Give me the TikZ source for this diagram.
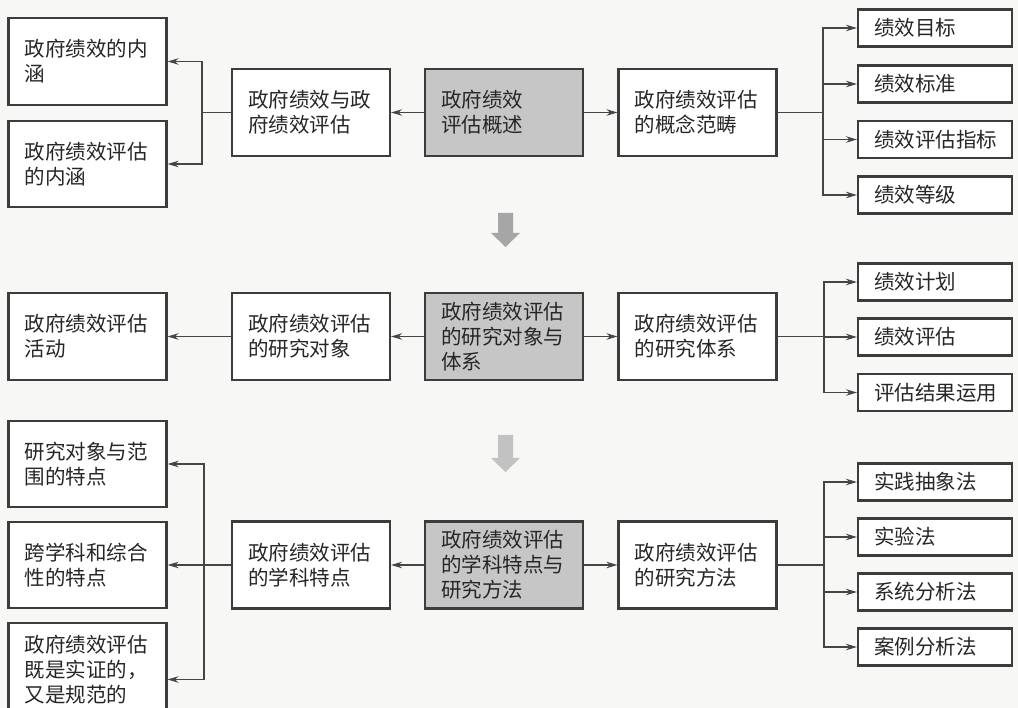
\documentclass[tikz,border=0pt]{standalone}
\usepackage{fontspec}
\newfontfamily\cjk{Noto Sans CJK SC}
\usepackage{tikz}
\usetikzlibrary{arrows.meta, positioning, calc}
\usepackage{xcolor}
\definecolor{boxline}{HTML}{3C3C3C}
\definecolor{hubgray}{HTML}{C6C6C6}
\definecolor{linegray}{HTML}{454545}
\definecolor{paper}{HTML}{F7F7F6}

\begin{document}
\begin{tikzpicture}[
  x=1pt, y=-1pt,
  box/.style={draw=boxline, line width=2.2pt, fill=white, minimum height=87pt, text width=126pt, inner xsep=16pt, inner ysep=4pt, align=left, font=\cjk\fontsize{20.5}{25}\selectfont, text=black!85},
  hub/.style={box, fill=hubgray},
  leaf/.style={box, minimum height=37pt, text width=122pt},
  link/.style={draw=linegray, line width=1.1pt},
  arr/.style={link, -{Stealth[length=11pt, width=6.5pt]}},
  bigarrow/.style={fill=#1, draw=none}
]
\useasboundingbox (0,0) rectangle (1018,708);
\fill[paper] (0,0) rectangle (1018,708);

% Row 1 (overview)
\node[box] (mgov) at (87.5,61.5) {政府绩效的内\\涵};
\node[box, minimum height=86pt] (meval) at (87.5,164) {政府绩效评估\\的内涵};
\node[box] (pair) at (311,112.5) {政府绩效与政\\府绩效评估};
\node[hub] (intro) at (504,112.5) {政府绩效\\评估概述};
\node[box] (concept) at (697.5,112.5) {政府绩效评估\\的概念范畴};
\node[leaf] (goal) at (935,28) {绩效目标};
\node[leaf] (std) at (935,84) {绩效标准};
\node[leaf] (ind) at (935,139.5) {绩效评估指标};
\node[leaf] (grade) at (935,195) {绩效等级};

% Row 2 (objects and system)
\node[box] (act) at (87.5,336.5) {政府绩效评估\\活动};
\node[box] (obj) at (311,336.5) {政府绩效评估\\的研究对象};
\node[hub] (scope) at (504,336.5) {政府绩效评估\\的研究对象与\\体系};
\node[box] (sys) at (697.5,336.5) {政府绩效评估\\的研究体系};
\node[leaf] (plan) at (935,282) {绩效计划};
\node[leaf] (eval) at (935,337) {绩效评估};
\node[leaf] (use) at (935,392.5) {评估结果运用};

% Row 3 (features and methods)
\node[box, minimum height=86pt] (fa) at (87.5,464) {研究对象与范\\围的特点};
\node[box, minimum height=86pt] (fb) at (87.5,565) {跨学科和综合\\性的特点};
\node[box, minimum height=93pt] (fc) at (87.5,669.5) {政府绩效评估\\既是实证的，\\又是规范的};
\node[box] (subj) at (311,565) {政府绩效评估\\的学科特点};
\node[hub] (disc) at (504,565) {政府绩效评估\\的学科特点与\\研究方法};
\node[box] (meth) at (697.5,565) {政府绩效评估\\的研究方法};
\node[leaf] (m1) at (935,482) {实践抽象法};
\node[leaf] (m2) at (935,537) {实验法};
\node[leaf] (m3) at (935,592) {系统分析法};
\node[leaf] (m4) at (935,647) {案例分析法};

% Branch points
\coordinate (bl1) at (202,112.5);
\coordinate (br1) at (823,112.5);
\coordinate (br2) at (824,336.5);
\coordinate (bl3) at (204,565);
\coordinate (br3) at (824,565);

% Connectors
\draw[arr] (intro) -- (pair);
\draw[arr] (intro) -- (concept);
\draw[link] (pair.west) -- (bl1);
\draw[arr] (bl1) |- (mgov.east);
\draw[arr] (bl1) |- (meval.east);
\draw[link] (concept.east) -- (br1);
\foreach \n in {goal,std,ind,grade}{\draw[arr] (br1) |- (\n.west);}

\draw[arr] (scope) -- (obj);
\draw[arr] (obj) -- (act);
\draw[arr] (scope) -- (sys);
\draw[link] (sys.east) -- (br2);
\foreach \n in {plan,eval,use}{\draw[arr] (br2) |- (\n.west);}

\draw[arr] (disc) -- (subj);
\draw[arr] (disc) -- (meth);
\draw[link] (subj.west) -- (bl3);
\draw[arr] (bl3) |- (fa.east);
\draw[arr] (bl3) |- (fb.east);
\draw[arr] (bl3) |- ([yshift=-10pt]fc.east);
\draw[link] (meth.east) -- (br3);
\foreach \n in {m1,m2,m3,m4}{\draw[arr] (br3) |- (\n.west);}

% Down arrows between rows
\foreach \y/\h/\c in {213/20/black!35, 435/23/black!24}{
  \fill[bigarrow=\c] (498,\y) -- (513,\y) -- (513,\y+\h) -- (520,\y+\h) -- (505.5,\y+\h+14) -- (491,\y+\h) -- (498,\y+\h) -- cycle;
}
\end{tikzpicture}
\end{document}
